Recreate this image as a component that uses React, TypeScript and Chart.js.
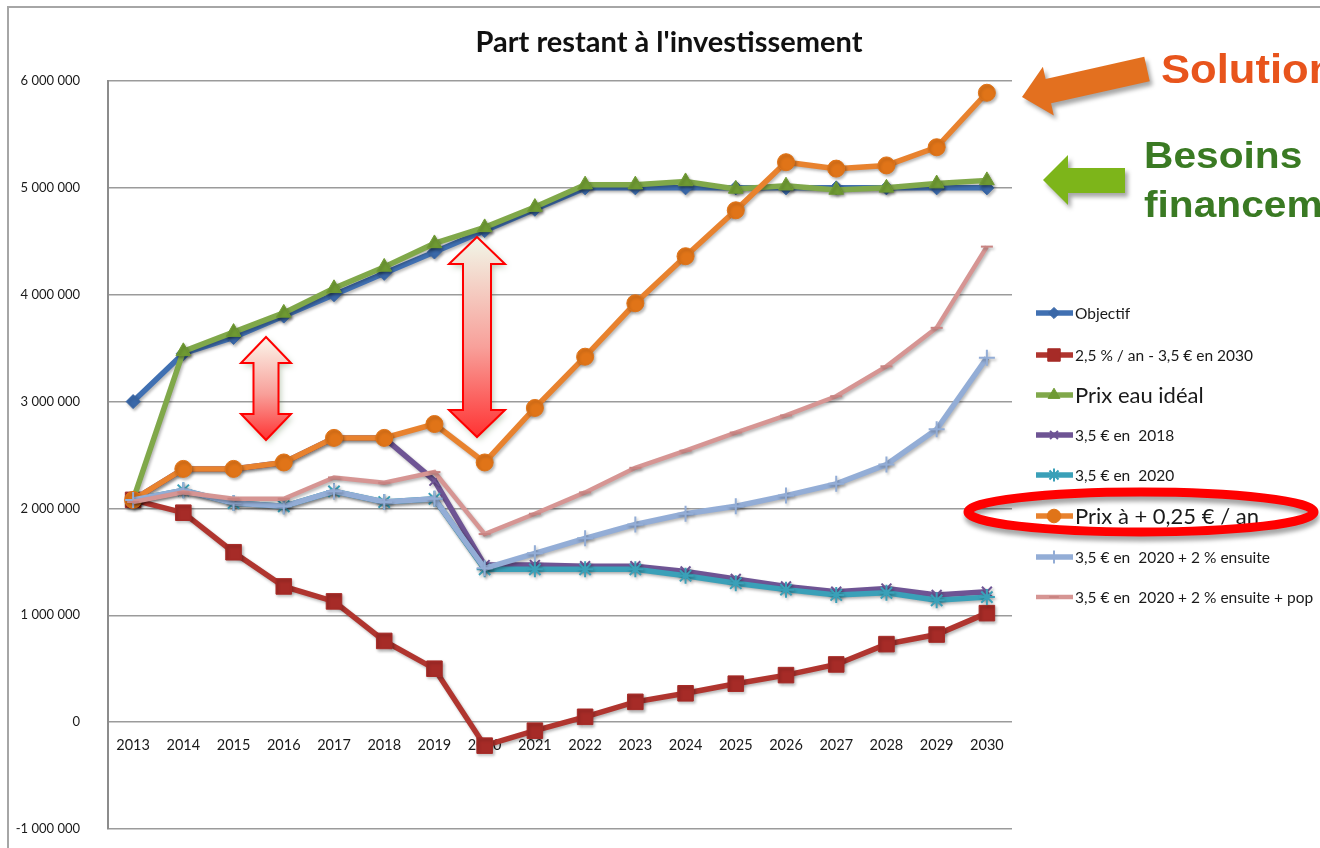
import React, { useEffect, useRef } from 'react';
import { Chart, registerables } from 'chart.js';
import { drawPoint } from 'chart.js/helpers';

Chart.register(...registerables);

const years = ['2013', '2014', '2015', '2016', '2017', '2018', '2019', '2020', '2021', '2022', '2023', '2024', '2025', '2026', '2027', '2028', '2029', '2030'];

const seriesNames = [
  'Objectif',
  '2,5 % / an - 3,5 € en 2030',
  'Prix eau idéal',
  '3,5 € en  2018',
  '3,5 € en  2020',
  'Prix à + 0,25 € / an',
  '3,5 € en  2020 + 2 % ensuite',
  '3,5 € en  2020 + 2 % ensuite + pop',
];

const objectif = [3000000, 3450000, 3600000, 3800000, 4000000, 4200000, 4400000, 4600000, 4800000, 5000000, 5000000, 5000000, 5000000, 5000000, 5000000, 5000000, 5000000, 5000000];
const deuxCinqPct = [2080000, 1960000, 1590000, 1270000, 1130000, 760000, 500000, -220000, -80000, 50000, 190000, 270000, 360000, 440000, 540000, 730000, 820000, 1020000];
const prixIdeal = [2080000, 3470000, 3650000, 3830000, 4060000, 4260000, 4480000, 4630000, 4820000, 5030000, 5030000, 5060000, 4990000, 5020000, 4980000, 5000000, 5040000, 5070000];
const en2018 = [2080000, 2370000, 2370000, 2430000, 2660000, 2660000, 2260000, 1470000, 1470000, 1460000, 1460000, 1410000, 1340000, 1270000, 1220000, 1250000, 1190000, 1220000];
const en2020 = [2080000, 2170000, 2050000, 2020000, 2160000, 2060000, 2090000, 1430000, 1430000, 1430000, 1430000, 1370000, 1300000, 1240000, 1190000, 1210000, 1140000, 1170000];
const plus025 = [2080000, 2370000, 2370000, 2430000, 2660000, 2660000, 2790000, 2430000, 2940000, 3420000, 3920000, 4360000, 4790000, 5240000, 5180000, 5210000, 5380000, 5890000];
const en2020Plus2 = [2080000, 2170000, 2050000, 2020000, 2160000, 2060000, 2090000, 1440000, 1580000, 1720000, 1850000, 1950000, 2020000, 2120000, 2230000, 2410000, 2740000, 3410000];
const en2020Plus2Pop = [2060000, 2150000, 2090000, 2090000, 2290000, 2240000, 2340000, 1760000, 1950000, 2150000, 2380000, 2540000, 2710000, 2870000, 3050000, 3330000, 3690000, 4450000];

const yTicksMin = -1000000;
const yTicksMax = 6000000;
const yStep = 1000000;

const fmt = (v: number) => {
  const s = Math.abs(v).toString().replace(/\B(?=(\d{3})+(?!\d))/g, ' ');
  return (v < 0 ? '-' : '') + s;
};

type Style = {
  line: string;
  point: string;
  pointStyle: string;
  radius: number;
  width: number;
  pbw: number;
};

const styles: Style[] = [
  { line: '#4070B2', point: '#3A68A8', pointStyle: 'rectRot', radius: 7, width: 5.5, pbw: 1 },
  { line: '#B0352F', point: '#A62B27', pointStyle: 'rect', radius: 11, width: 5.5, pbw: 1 },
  { line: '#80A84A', point: '#6F9A33', pointStyle: 'triangle', radius: 8.5, width: 5.5, pbw: 1 },
  { line: '#6E5494', point: '#6E5494', pointStyle: 'crossRot', radius: 7, width: 5.5, pbw: 2 },
  { line: '#3AA0B8', point: '#3AA0B8', pointStyle: 'star', radius: 8, width: 5.5, pbw: 2 },
  { line: '#E8822E', point: '#E07418', pointStyle: 'circle', radius: 8.5, width: 5.5, pbw: 1 },
  { line: '#93ADD6', point: '#93ADD6', pointStyle: 'cross', radius: 8, width: 5.5, pbw: 2 },
  { line: '#D69593', point: '#C98482', pointStyle: 'line', radius: 6, width: 4.5, pbw: 2 },
];

const allData = [objectif, deuxCinqPct, prixIdeal, en2018, en2020, plus025, en2020Plus2, en2020Plus2Pop];

const legendRows = [313, 355, 395, 435, 475, 516, 557, 597];
const legendBig = [false, false, true, false, false, true, false, false];

const bgPlugin = {
  id: 'bg',
  beforeDraw(chart: any) {
    const c = chart.ctx;
    c.save();
    c.fillStyle = '#ffffff';
    c.fillRect(0, 0, chart.width, chart.height);
    c.strokeStyle = '#A6A6A6';
    c.lineWidth = 2;
    c.strokeRect(8, 7, chart.width + 20, chart.height + 20);
    c.restore();
  },
};

const shadowPlugin = {
  id: 'shadow',
  beforeDatasetDraw(chart: any) {
    const c = chart.ctx;
    c.save();
    c.shadowColor = 'rgba(0,0,0,0.28)';
    c.shadowBlur = 3;
    c.shadowOffsetX = 1.5;
    c.shadowOffsetY = 2;
  },
  afterDatasetDraw(chart: any) {
    chart.ctx.restore();
  },
};

function poly(c: CanvasRenderingContext2D, pts: number[][]) {
  c.beginPath();
  c.moveTo(pts[0][0], pts[0][1]);
  for (let i = 1; i < pts.length; i++) c.lineTo(pts[i][0], pts[i][1]);
  c.closePath();
}

function blockArrow(tip: number[], tail: number[], headLen: number, headHalf: number, shaftHalf: number) {
  const dx = tail[0] - tip[0];
  const dy = tail[1] - tip[1];
  const L = Math.hypot(dx, dy);
  const d = [dx / L, dy / L];
  const n = [-d[1], d[0]];
  const P = (u: number, v: number) => [tip[0] + u * d[0] + v * n[0], tip[1] + u * d[1] + v * n[1]];
  return [P(0, 0), P(headLen, -headHalf), P(headLen, -shaftHalf), P(L, -shaftHalf), P(L, shaftHalf), P(headLen, shaftHalf), P(headLen, headHalf)];
}

function doubleArrow(cx: number, top: number, bottom: number, headLen: number, headHalf: number, shaftHalf: number) {
  return [
    [cx, top],
    [cx + headHalf, top + headLen],
    [cx + shaftHalf, top + headLen],
    [cx + shaftHalf, bottom - headLen],
    [cx + headHalf, bottom - headLen],
    [cx, bottom],
    [cx - headHalf, bottom - headLen],
    [cx - shaftHalf, bottom - headLen],
    [cx - shaftHalf, top + headLen],
    [cx - headHalf, top + headLen],
  ];
}

function stretchedText(c: CanvasRenderingContext2D, text: string, x: number, y: number, font: string, color: string, sx: number) {
  c.save();
  c.font = font;
  c.fillStyle = color;
  c.textBaseline = 'alphabetic';
  c.textAlign = 'left';
  c.translate(x, y);
  c.scale(sx, 1);
  c.fillText(text, 0, 0);
  c.restore();
}

const overlayPlugin = {
  id: 'overlay',
  afterDraw(chart: any) {
    const c: CanvasRenderingContext2D = chart.ctx;

    // Title
    c.save();
    c.font = 'bold 29px Lato';
    c.fillStyle = '#111111';
    c.textAlign = 'center';
    c.textBaseline = 'alphabetic';
    c.fillText("Part restant à l'investissement", 669, 52);
    c.restore();

    // Legend
    chart.data.datasets.forEach((ds: any, i: number) => {
      const st = styles[i];
      const y = legendRows[i];
      c.save();
      c.strokeStyle = st.line;
      c.lineWidth = st.width;
      c.beginPath();
      c.moveTo(1036, y);
      c.lineTo(1073, y);
      c.stroke();
      c.fillStyle = st.point;
      c.strokeStyle = st.point;
      c.lineWidth = st.pbw;
      drawPoint(c, { pointStyle: st.pointStyle as any, rotation: 0, radius: st.radius * 0.8, borderWidth: st.pbw }, 1054, y);
      c.restore();
      c.save();
      c.fillStyle = '#1a1a1a';
      c.textBaseline = 'middle';
      c.textAlign = 'left';
      c.font = legendBig[i] ? '22px Lato' : '15.5px Lato';
      c.fillText(ds.label, 1075, y + 1);
      c.restore();
    });

    // Red ellipse around the highlighted legend entry
    c.save();
    c.shadowColor = 'rgba(0,0,0,0.35)';
    c.shadowBlur = 4;
    c.shadowOffsetX = 1;
    c.shadowOffsetY = 5;
    c.strokeStyle = '#FF0000';
    c.lineWidth = 9;
    c.beginPath();
    c.ellipse(1141, 512, 173, 20, 0, 0, Math.PI * 2);
    c.stroke();
    c.restore();

    // Orange arrow "Solution"
    c.save();
    c.shadowColor = 'rgba(0,0,0,0.35)';
    c.shadowBlur = 4;
    c.shadowOffsetX = 3;
    c.shadowOffsetY = 4;
    c.fillStyle = '#E3701F';
    poly(c, blockArrow([1022, 97], [1147, 69], 27, 25, 12.5));
    c.fill();
    c.restore();

    // Green arrow "Besoins financement"
    c.save();
    c.shadowColor = 'rgba(0,0,0,0.35)';
    c.shadowBlur = 4;
    c.shadowOffsetX = 3;
    c.shadowOffsetY = 4;
    c.fillStyle = '#7DB51A';
    poly(c, [[1043, 180], [1068, 155], [1068, 168], [1125, 168], [1125, 193], [1068, 193], [1068, 205]]);
    c.fill();
    c.restore();

    stretchedText(c, 'Solution', 1161, 83, 'bold 40px "Liberation Sans"', '#E8541C', 1.09);
    stretchedText(c, 'Besoins', 1144, 168, 'bold 36px "Liberation Sans"', '#3A7A23', 1.13);
    stretchedText(c, 'financement', 1144, 217, 'bold 36px "Liberation Sans"', '#3A7A23', 1.13);

    // Red double arrows
    const drawDouble = (cx: number, top: number, bottom: number, hl: number, hh: number, sh: number, c0: string) => {
      c.save();
      const g = c.createLinearGradient(0, top, 0, bottom);
      g.addColorStop(0, c0);
      g.addColorStop(0.55, '#F8A09A');
      g.addColorStop(1, '#FF3333');
      c.shadowColor = 'rgba(60,100,40,0.35)';
      c.shadowBlur = 6;
      c.shadowOffsetX = 2;
      c.shadowOffsetY = 3;
      c.fillStyle = g;
      poly(c, doubleArrow(cx, top, bottom, hl, hh, sh));
      c.fill();
      c.shadowColor = 'transparent';
      c.strokeStyle = '#FF0000';
      c.lineWidth = 2;
      c.stroke();
      c.restore();
    };
    drawDouble(266, 337, 440, 26, 25, 12.5, '#FBF7EC');
    drawDouble(477, 237, 437, 27, 28, 14, '#F1F7E8');
  },
};

export default function App() {
  const ref = useRef<HTMLCanvasElement>(null);
  useEffect(() => {
    const canvas = ref.current as HTMLCanvasElement;
    const datasets = allData.map((d, i) => {
      const st = styles[i];
      return {
        label: seriesNames[i],
        data: d,
        borderColor: st.line,
        backgroundColor: st.point,
        borderWidth: st.width,
        pointStyle: st.pointStyle as any,
        pointRadius: st.radius,
        pointBackgroundColor: st.point,
        pointBorderColor: st.point,
        pointBorderWidth: st.pbw,
        tension: 0,
        fill: false,
        order: allData.length - i,
      };
    });
    const chart = new Chart(canvas, {
      type: 'line',
      data: { labels: years, datasets },
      options: {
        animation: false,
        responsive: false,
        maintainAspectRatio: false,
        devicePixelRatio: 1,
        layout: { padding: { left: 8, right: 308, top: 81, bottom: 19 } },
        plugins: {
          legend: { display: false },
          title: { display: false },
          tooltip: { enabled: false },
        },
        scales: {
          x: {
            type: 'category',
            position: { y: 0 } as any,
            offset: true,
            grid: { display: false, drawTicks: false },
            border: { display: false },
            ticks: {
              font: { family: 'Lato', size: 14.5 },
              color: '#1a1a1a',
              padding: 14,
              maxRotation: 0,
              autoSkip: false,
            },
            afterFit: (s: any) => {
              s.height = 0;
            },
          },
          y: {
            min: yTicksMin,
            max: yTicksMax,
            grid: { color: '#9b9b9b', lineWidth: 1.5, drawTicks: true, tickLength: 24, tickColor: 'rgba(0,0,0,0)' },
            border: { display: true, color: '#8c8c8c', width: 2 },
            ticks: {
              stepSize: yStep,
              padding: 4,
              font: { family: 'Lato', size: 13 },
              color: '#1a1a1a',
              callback: (v: any) => fmt(Number(v)),
            },
            afterFit: (s: any) => {
              s.width = 100;
            },
          },
        },
      },
      plugins: [bgPlugin, shadowPlugin, overlayPlugin],
    });
    return () => chart.destroy();
  }, []);
  return (
    <div style={{ position: 'fixed', left: 0, top: 0, width: 1320, height: 848, background: '#fff', overflow: 'hidden' }}>
      <canvas ref={ref} width={1320} height={848} style={{ display: 'block', width: 1320, height: 848 }} />
    </div>
  );
}
